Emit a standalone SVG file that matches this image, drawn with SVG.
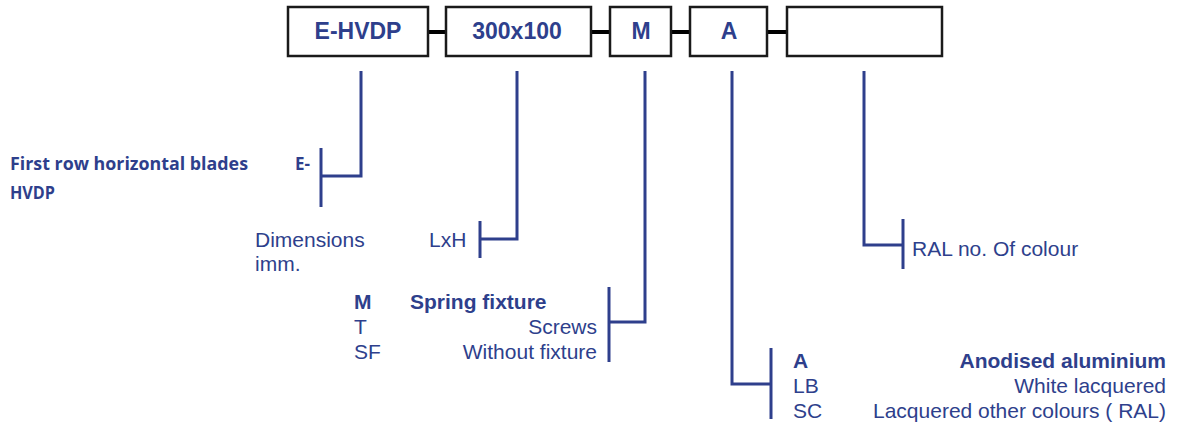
<svg xmlns="http://www.w3.org/2000/svg" width="1177" height="427" viewBox="0 0 1177 427">
<style>
.box{fill:#fff;stroke:#1a1a1a;stroke-width:2.5}
.bt{font-family:"Liberation Sans",Arial,sans-serif;font-weight:bold;font-size:23px;fill:#2E3F8C;text-anchor:middle}
.t{font-family:"Liberation Sans",Arial,sans-serif;font-size:21px;fill:#2E3F8C}
.b{font-weight:bold}
.r{text-anchor:end}
.c{font-family:"Open Sans","Noto Sans",sans-serif;font-weight:bold;font-size:17px;fill:#2E3F8C}
.ln{fill:none;stroke:#2E3F8C;stroke-width:3}
.cn{stroke:#000;stroke-width:4}
</style>
<g id="connectors">
<line class="cn" x1="428" y1="32" x2="446" y2="32"/>
<line class="cn" x1="591" y1="32" x2="610" y2="32"/>
<line class="cn" x1="671" y1="32" x2="690" y2="32"/>
<line class="cn" x1="767" y1="32" x2="787" y2="32"/>
<polyline class="ln" points="361,71 361,176 321,176"/>
<line class="ln" x1="321" y1="148" x2="321" y2="207"/>
<polyline class="ln" points="517,71 517,239 480,239"/>
<line class="ln" x1="480" y1="221" x2="480" y2="258"/>
<polyline class="ln" points="645,71 645,322 609,322"/>
<line class="ln" x1="609" y1="287" x2="609" y2="362"/>
<polyline class="ln" points="732,71 732,384 771,384"/>
<line class="ln" x1="771" y1="348" x2="771" y2="419"/>
<polyline class="ln" points="864,71 864,245 903,245"/>
<line class="ln" x1="903" y1="219" x2="903" y2="269"/>
</g>
<g id="box-ehvdp"><rect class="box" x="288" y="7" width="140" height="49"/><text class="bt" x="358" y="39">E-HVDP</text></g>
<g id="box-size"><rect class="box" x="446" y="7" width="145" height="49"/><text class="bt" x="517" y="39">300x100</text></g>
<g id="box-m"><rect class="box" x="610" y="7" width="61" height="49"/><text class="bt" x="641" y="39">M</text></g>
<g id="box-a"><rect class="box" x="690" y="7" width="77" height="49"/><text class="bt" x="729" y="39">A</text></g>
<g id="box-ral"><rect class="box" x="787" y="7" width="155" height="49"/></g>
<g id="label-type">
<text class="c" x="10" y="170" textLength="238" lengthAdjust="spacingAndGlyphs">First row horizontal blades</text>
<text class="c" x="10" y="199" textLength="45" lengthAdjust="spacingAndGlyphs">HVDP</text>
<text class="c" x="295" y="170">E-</text>
</g>
<g id="label-dim">
<text class="t" x="255" y="247">Dimensions</text>
<text class="t" x="255" y="271">imm.</text>
<text class="t" x="429" y="247">LxH</text>
</g>
<g id="label-fixture">
<text class="t b" x="354" y="309">M</text>
<text class="t b" x="410" y="309">Spring fixture</text>
<text class="t" x="354" y="334">T</text>
<text class="t r" x="597" y="334">Screws</text>
<text class="t" x="354" y="359">SF</text>
<text class="t r" x="597" y="359">Without fixture</text>
</g>
<g id="label-finish">
<text class="t b" x="793" y="368">A</text>
<text class="t b r" x="1166" y="368">Anodised aluminium</text>
<text class="t" x="793" y="393">LB</text>
<text class="t r" x="1166" y="393">White lacquered</text>
<text class="t" x="793" y="418">SC</text>
<text class="t r" x="1166" y="418">Lacquered other colours ( RAL)</text>
</g>
<g id="label-ral">
<text class="t" x="912" y="256">RAL no. Of colour</text>
</g>
</svg>
